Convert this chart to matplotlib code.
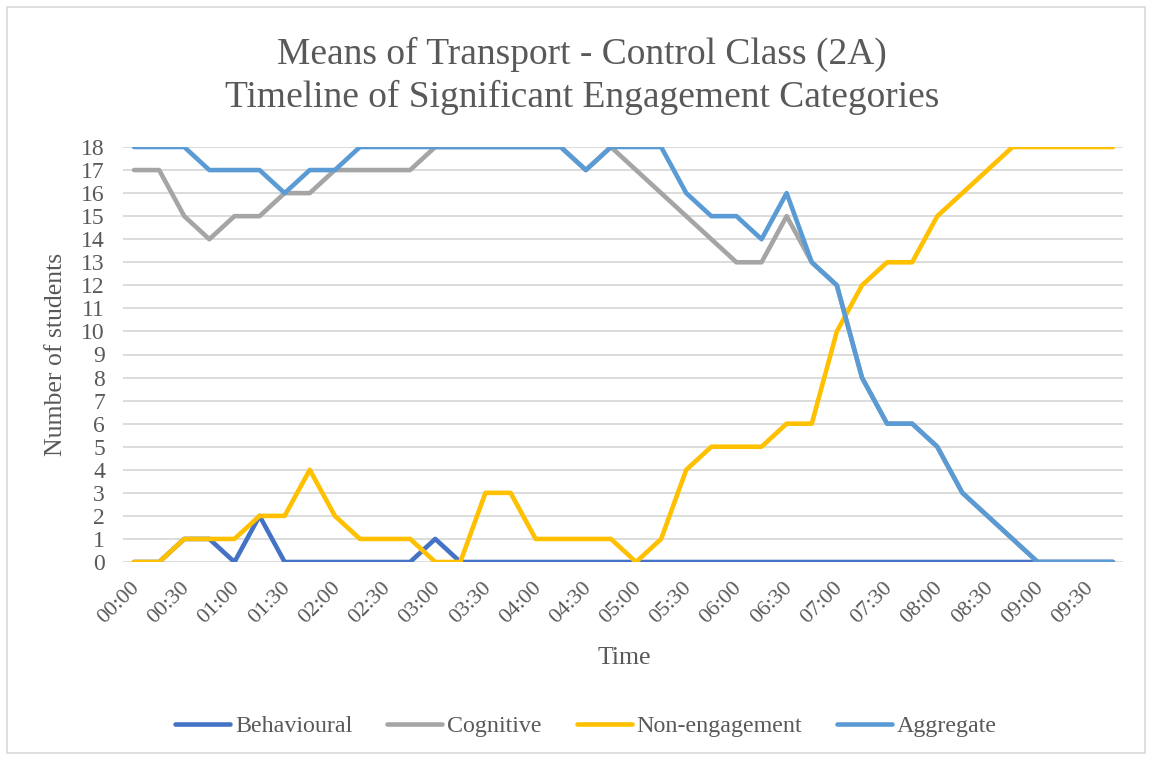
import matplotlib.pyplot as plt
import matplotlib.transforms as mtransforms
from matplotlib.patches import Rectangle

# Dados ======================================================================
times = ["00:00", "00:15", "00:30", "00:45", "01:00", "01:15", "01:30", "01:45",
         "02:00", "02:15", "02:30", "02:45", "03:00", "03:15", "03:30", "03:45",
         "04:00", "04:15", "04:30", "04:45", "05:00", "05:15", "05:30", "05:45",
         "06:00", "06:15", "06:30", "06:45", "07:00", "07:15", "07:30", "07:45",
         "08:00", "08:15", "08:30", "08:45", "09:00", "09:15", "09:30", "09:45"]

behavioural = [0, 0, 1, 1, 0, 2, 0, 0, 0, 0,
               0, 0, 1, 0, 0, 0, 0, 0, 0, 0,
               0, 0, 0, 0, 0, 0, 0, 0, 0, 0,
               0, 0, 0, 0, 0, 0, 0, 0, 0, 0]
cognitive = [17, 17, 15, 14, 15, 15, 16, 16, 17, 17,
             17, 17, 18, 18, 18, 18, 18, 18, 17, 18,
             17, 16, 15, 14, 13, 13, 15, 13, 12, 8,
             6, 6, 5, 3, 2, 1, 0, 0, 0, 0]
non_engagement = [0, 0, 1, 1, 1, 2, 2, 4, 2, 1,
                  1, 1, 0, 0, 3, 3, 1, 1, 1, 1,
                  0, 1, 4, 5, 5, 5, 6, 6, 10, 12,
                  13, 13, 15, 16, 17, 18, 18, 18, 18, 18]
aggregate = [18, 18, 18, 17, 17, 17, 16, 17, 17, 18,
             18, 18, 18, 18, 18, 18, 18, 18, 17, 18,
             18, 18, 16, 15, 15, 14, 16, 13, 12, 8,
             6, 6, 5, 3, 2, 1, 0, 0, 0, 0]

series = [("Behavioural", behavioural, "#4472C4"),
          ("Cognitive", cognitive, "#A5A5A5"),
          ("Non-engagement", non_engagement, "#FFC000"),
          ("Aggregate", aggregate, "#5B9BD5")]

txt = "#595959"
plt.rcParams['font.family'] = ['Liberation Serif', 'DejaVu Serif']

# Figura =====================================================================
fig = plt.figure(figsize=(11.52, 7.6), dpi=100)
fig.patches.append(Rectangle((7 / 1152, 7 / 760), 1138 / 1152, 746 / 760,
                             transform=fig.transFigure, fill=False,
                             edgecolor="#D9D9D9", linewidth=1.2))

ax = fig.add_axes([123 / 1152, 1 - 562 / 760, 1000 / 1152, 415 / 760])
x = list(range(len(times)))
for nome, vals, cor in series:
    ax.plot(x, vals, color=cor, lw=3.3, label=nome,
            solid_capstyle='round', solid_joinstyle='round')

ax.set_ylim(0, 18)
ax.set_xlim(-0.44, 39.4)
ax.set_yticks(range(0, 19))
ax.set_xticks(x[::2])
ax.set_xticklabels(times[::2], rotation=45, ha='right', rotation_mode='anchor')
ax.yaxis.grid(True, color="#D9D9D9", lw=1.3)
ax.set_axisbelow(True)
for s in ax.spines.values():
    s.set_visible(False)
ax.tick_params(axis='y', length=0, labelsize=17, colors=txt, pad=13)
ax.tick_params(axis='x', length=0, labelsize=16, colors=txt, pad=12)

# desloca os rótulos do eixo x um pouco para a esquerda
desloc = mtransforms.ScaledTranslation(-4 / 100, 0, fig.dpi_scale_trans)
for lbl in ax.get_xticklabels():
    lbl.set_transform(lbl.get_transform() + desloc)

fig.text(0.505, 1 - 76 / 760,
         "Means of Transport - Control Class (2A)\nTimeline of Significant Engagement Categories",
         ha='center', va='center', fontsize=27, color=txt, linespacing=1.3)
fig.text(56 / 1152, 1 - 354 / 760, "Number of students", rotation=90,
         ha='center', va='center', fontsize=18.5, color=txt)
fig.text(624 / 1152, 1 - 658 / 760, "Time", ha='center', va='center',
         fontsize=18.5, color=txt)

leg = fig.legend(loc='center', bbox_to_anchor=(586 / 1152, 1 - 726 / 760),
                 ncol=4, frameon=False, fontsize=17.3, handlelength=2.3,
                 handletextpad=0.2, columnspacing=1.45)
for t in leg.get_texts():
    t.set_color(txt)

fig.savefig("out.png", dpi=100)
